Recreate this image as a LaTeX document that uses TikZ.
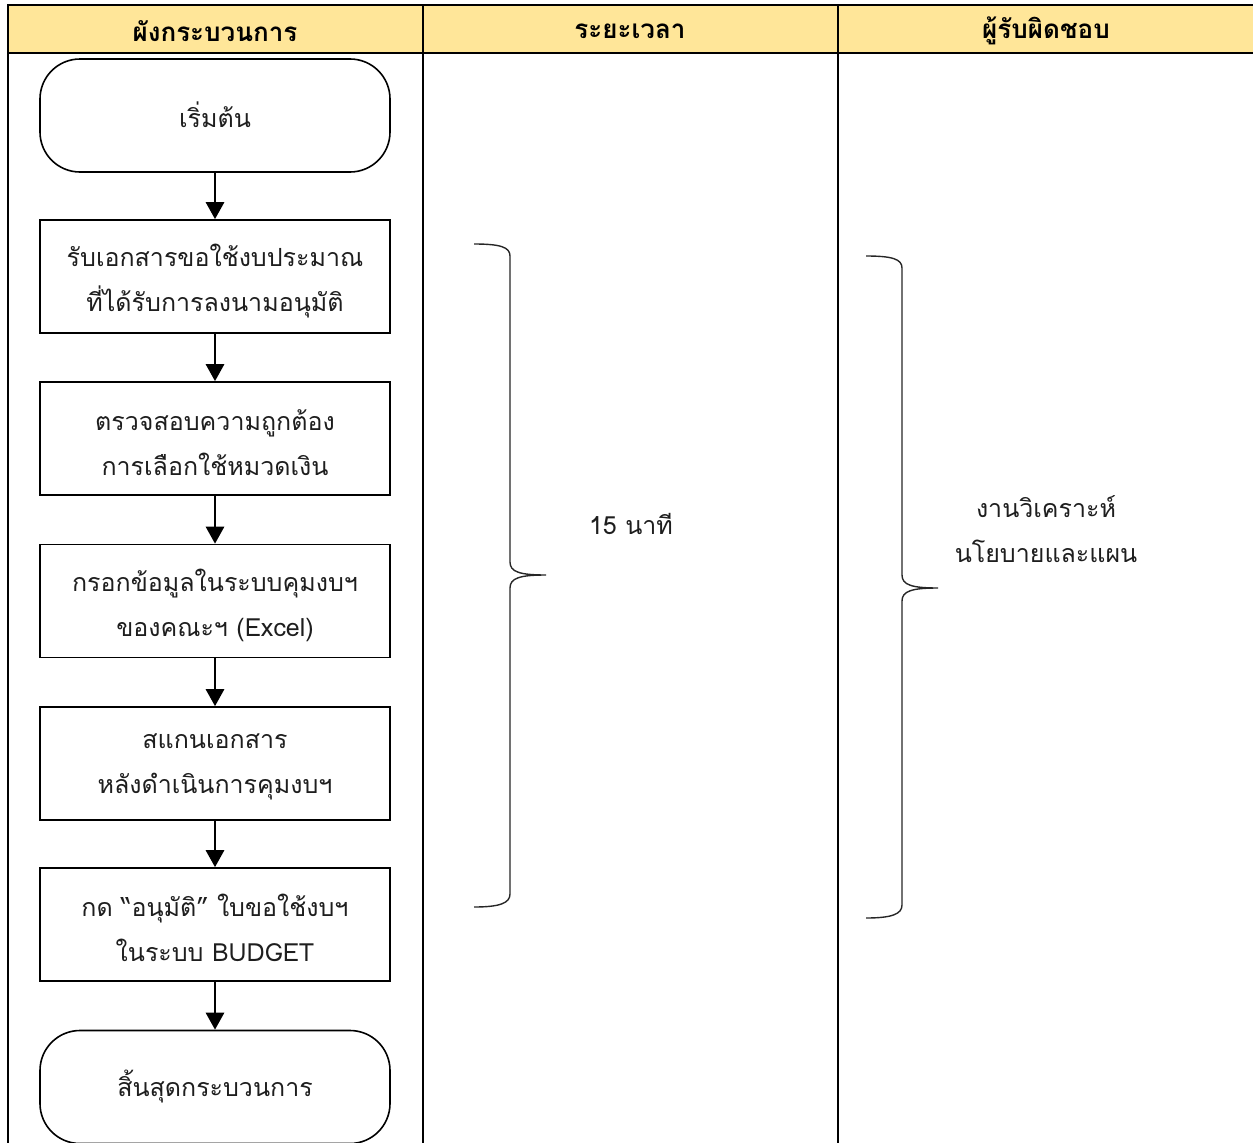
\documentclass[tikz,border=0pt]{standalone}
\usepackage{fontspec}
\newfontfamily\thaifont[Script=Thai]{Loma}
\usetikzlibrary{arrows.meta}
\definecolor{hdr}{HTML}{FFE699}
\definecolor{txt}{HTML}{1E1E1E}
\begin{document}
\begin{tikzpicture}[x=1pt,y=-1pt,
  body/.style={font=\thaifont\fontsize{25}{45}\selectfont, text=txt, align=center},
  procbox/.style={draw=black, line width=1.6pt, fill=white, minimum width=350pt, minimum height=113pt, inner sep=0pt},
  termbox/.style={procbox, rounded corners=40pt},
  hdrtext/.style={font=\thaifont\bfseries\fontsize{26}{30}\selectfont, text=black},
  flow/.style={line width=2.8pt, -{Triangle[length=17pt,width=18pt]}},
  brace/.style={line width=1.4pt, draw=black!85}]
\useasboundingbox (0,0) rectangle (1253,1143);
% table
\fill[hdr] (8,5) rectangle (1256,53);
\draw[line width=2.6pt] (8,1146) -- (8,5) -- (1256,5);
\draw[line width=2.6pt] (8,53) -- (1256,53);
\draw[line width=2.2pt] (423,5) -- (423,1146);
\draw[line width=2.2pt] (838,5) -- (838,1146);
\node[hdrtext] (h1) at (215,31) {ผังกระบวนการ};
\node[hdrtext] (h2) at (630,31) {ระยะเวลา};
\node[hdrtext] (h3) at (1046,31) {ผู้รับผิดชอบ};
% flow boxes
\node[termbox] (s) at (215,115.5) {};
\node[procbox] (b1) at (215,276.5) {};
\node[procbox] (b2) at (215,438.5) {};
\node[procbox] (b3) at (215,601) {};
\node[procbox] (b4) at (215,763.5) {};
\node[procbox] (b5) at (215,924.5) {};
\node[termbox] (e) at (215,1087) {};
% box texts
\node[body] (st) at (215,115) {เริ่มต้น};
\node[body] (b1t) at (215,281) {รับเอกสารขอใช้งบประมาณ\\ที่ได้รับการลงนามอนุมัติ};
\node[body] (b2t) at (215,443) {ตรวจสอบความถูกต้อง\\การเลือกใช้หมวดเงิน};
\node[body] (b3t) at (215,605) {กรอกข้อมูลในระบบคุมงบฯ\\ของคณะฯ (Excel)};
\node[body] (b4t) at (215,767) {สแกนเอกสาร\\หลังดำเนินการคุมงบฯ};
\node[body] (b5t) at (215,928) {กด “อนุมัติ” ใบขอใช้งบฯ\\ในระบบ BUDGET};
\node[body] (et) at (215,1087) {สิ้นสุดกระบวนการ};
\draw[flow] (s) -- (b1);
\draw[flow] (b1) -- (b2);
\draw[flow] (b2) -- (b3);
\draw[flow] (b3) -- (b4);
\draw[flow] (b4) -- (b5);
\draw[flow] (b5) -- (e);
% braces
\coordinate (t1) at (474,244);
\coordinate (t2) at (546,575);
\coordinate (t3) at (474,907);
\draw[brace] (t1) .. controls (500,244) and (510,247) .. (510,256) -- (510,562) .. controls (510,572) and (520,575) .. (t2)
  .. controls (520,575) and (510,578) .. (510,588) -- (510,894) .. controls (510,903) and (500,907) .. (t3);
\node[body] (time) at (631,524) {15 นาที};
\coordinate (r1) at (866,256);
\coordinate (r2) at (938,588);
\coordinate (r3) at (866,918);
\draw[brace] (r1) .. controls (892,256) and (902,259) .. (902,268) -- (902,575) .. controls (902,585) and (912,588) .. (r2)
  .. controls (912,588) and (902,591) .. (902,601) -- (902,905) .. controls (902,914) and (892,918) .. (r3);
\node[body] (resp) at (1046,529) {งานวิเคราะห์\\นโยบายและแผน};
\end{tikzpicture}
\end{document}
